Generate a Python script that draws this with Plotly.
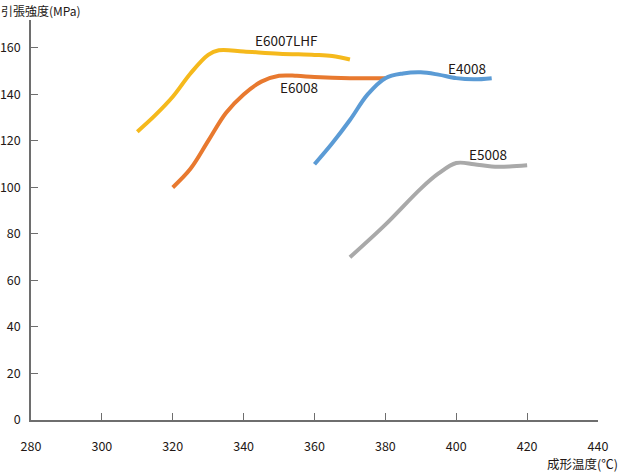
import plotly.graph_objects as go

# E6007LHF (yellow)
x_e6007 = [310, 315, 320, 325, 330, 333, 340, 350, 360, 365, 370]
y_e6007 = [124, 131, 139, 149, 157, 159, 158.5, 157.5, 157, 156.5, 155]
# E6008 (orange)
x_e6008 = [320, 325, 330, 335, 340, 345, 350, 355, 360, 370, 380]
y_e6008 = [100, 108, 120, 132, 140, 145.5, 148, 148, 147.5, 147, 147]
# E4008 (blue)
x_e4008 = [360, 365, 370, 375, 380, 385, 390, 395, 400, 405, 410]
y_e4008 = [110, 119, 129, 140, 147, 149, 149.5, 148.5, 147, 146.5, 147]
# E5008 (gray)
x_e5008 = [370, 380, 390, 395, 400, 405, 410, 415, 420]
y_e5008 = [70, 84, 99.5, 106, 110.5, 110, 109, 109, 109.5]

series_names = ["E6007LHF", "E6008", "E4008", "E5008"]
colors = ["#F5B91C", "#E8792F", "#5B9BD5", "#A9A9A9"]
label_x = [352, 355.5, 403, 409]
label_y = [163.5, 143, 151.5, 114.2]

x_ticks = [280, 300, 320, 340, 360, 380, 400, 420, 440]
y_ticks = [0, 20, 40, 60, 80, 100, 120, 140, 160]

FONT = "Noto Sans CJK JP"
L, R, T, B = 31, 22, 20, 52
PW, PH = 620 - L - R, 472 - T - B

fig = go.Figure()
data = [(x_e6007, y_e6007), (x_e6008, y_e6008), (x_e4008, y_e4008), (x_e5008, y_e5008)]
for (xs, ys), name, c in zip(data, series_names, colors):
    fig.add_trace(go.Scatter(x=xs, y=ys, mode="lines", name=name,
                             line=dict(color=c, width=4, shape="spline", smoothing=1.0)))

for name, lx, ly in zip(series_names, label_x, label_y):
    fig.add_annotation(x=lx, y=ly, text=name, showarrow=False,
                       font=dict(family=FONT, size=13.5, color="#231815"))

fig.add_annotation(xref="paper", yref="paper", x=-L / PW, y=1 + 10 / PH, xanchor="left", yanchor="middle",
                   text="引張強度(MPa)", showarrow=False, borderpad=0,
                   font=dict(family=FONT, size=12, color="#231815"))
fig.add_annotation(xref="paper", yref="paper", x=1 + (R - 1) / PW, y=-43 / PH,
                   xanchor="right", yanchor="middle", borderpad=0,
                   text="成形温度(℃)", showarrow=False,
                   font=dict(family=FONT, size=12.5, color="#231815"))

axis_common = dict(showgrid=False, zeroline=False, showline=True, linecolor="#6e6e6e", linewidth=1.5,
                   ticks="inside", ticklen=7, tickcolor="#6e6e6e", tickwidth=1, automargin=False,
                   tickfont=dict(family=FONT, size=12.5, color="#231815"))
fig.update_xaxes(range=[280, 440], tickvals=x_ticks, ticklabelstandoff=14, **axis_common)
fig.update_yaxes(range=[0, 172], tickvals=y_ticks, ticklabelstandoff=6, **axis_common)

fig.update_layout(width=620, height=472, margin=dict(l=L, r=R, t=T, b=B, autoexpand=False),
                  plot_bgcolor="white", paper_bgcolor="white", showlegend=False)
fig.write_html("out.html")
